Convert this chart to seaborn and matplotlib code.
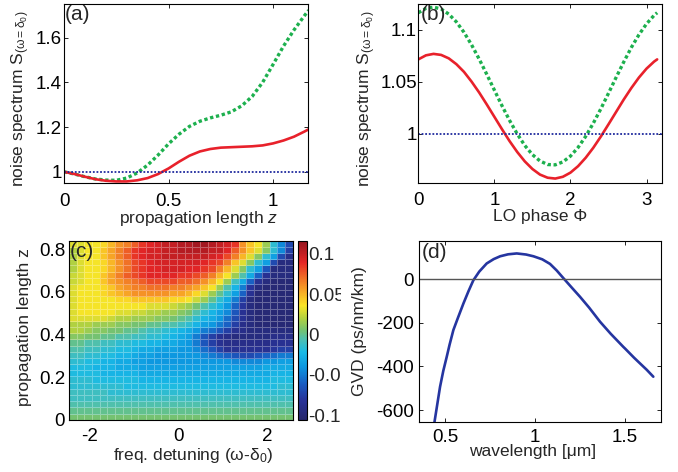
import numpy as np
import pandas as pd
import seaborn as sns
import matplotlib
matplotlib.use("Agg")
import matplotlib.pyplot as plt
from matplotlib.colors import LinearSegmentedColormap
from matplotlib.transforms import Bbox

# (a) noise spectrum vs propagation length
z_a = [0, 0.05, 0.1, 0.15, 0.2, 0.25, 0.3, 0.35, 0.4, 0.45, 0.5, 0.55, 0.6, 0.65,
       0.7, 0.75, 0.8, 0.85, 0.9, 0.95, 1.0, 1.05, 1.1, 1.15, 1.17]
S_green_a = [1.0, 0.99, 0.978, 0.968, 0.963, 0.962, 0.972, 0.995, 1.03, 1.075, 1.125,
             1.168, 1.203, 1.226, 1.241, 1.253, 1.268, 1.295, 1.337, 1.40, 1.48, 1.562,
             1.634, 1.698, 1.722]
S_red_a = [1.0, 0.99, 0.978, 0.967, 0.96, 0.957, 0.957, 0.962, 0.972, 0.99, 1.015,
           1.045, 1.072, 1.091, 1.102, 1.108, 1.11, 1.112, 1.114, 1.118, 1.127, 1.14,
           1.157, 1.18, 1.19]

# (b) noise spectrum vs LO phase
phi_b = [0, 0.1, 0.2, 0.3, 0.4, 0.5, 0.6, 0.7, 0.8, 0.9, 1.0, 1.1, 1.2, 1.3, 1.4, 1.5,
         1.6, 1.7, 1.8, 1.9, 2.0, 2.1, 2.2, 2.3, 2.4, 2.5, 2.6, 2.7, 2.8, 2.9, 3.0, 3.1, 3.14]
S_green_b = [1.1166, 1.1208, 1.122, 1.1202, 1.1153, 1.1078, 1.0978, 1.0857, 1.072, 1.0573,
             1.0421, 1.0271, 1.0129, 1.0, 0.9888, 0.980, 0.9739, 0.9705, 0.9702, 0.973,
             0.9786, 0.9869, 0.9976, 1.0102, 1.0242, 1.0391, 1.0543, 1.0691, 1.0831,
             1.0954, 1.1059, 1.1141, 1.1166]
S_red_b = [1.0717, 1.0756, 1.077, 1.076, 1.0727, 1.0671, 1.0597, 1.0503, 1.0398, 1.0283,
           1.0164, 1.0045, 0.993, 0.9826, 0.9735, 0.9662, 0.9608, 0.9578, 0.957, 0.9587,
           0.9627, 0.9689, 0.977, 0.9866, 0.9975, 1.0092, 1.0211, 1.033, 1.0441, 1.0542,
           1.0628, 1.0696, 1.0717]

# (c) map, rows from top (z = 0.84) to bottom (z = 0), values in units of 0.01
map_rows = [
    [3, 3, 3.5, 3.5, 4, 5, 6, 6.5, 7.5, 8.5, 9, 9.5, 10, 10, 10.5, 10.5, 11, 11, 10.5, 10, 9.5, 8.5, 6, 4.5, 3.5, 1.5, -1.5, -4.5, -7],
    [2, 3, 3.5, 3.5, 4.5, 5.5, 6.5, 7.5, 8.5, 9, 9.5, 9.5, 10, 10, 10.5, 10.5, 10.5, 10.5, 10, 10, 9, 7.5, 6, 4.5, 3, 1, -1.5, -4.5, -7.5],
    [2, 3, 3.5, 3.5, 4.5, 5.5, 6.5, 7.5, 8.5, 9, 9.5, 9.5, 10, 10, 10, 10, 10, 10, 9.5, 9, 8, 6.5, 5, 3, 1, -1.5, -3.5, -7, -9],
    [2, 3, 3.5, 3.5, 4, 5, 6, 7, 8, 8.5, 9, 9.5, 9.5, 9.5, 9.5, 9.5, 9.5, 9, 8.5, 8, 6.5, 4.5, 3, 1, -1.5, -3.5, -7, -9.5, -9.5],
    [2, 3, 3.5, 3.5, 4, 5, 6, 7, 8, 8.5, 9, 9, 9.5, 9.5, 9.5, 9, 9, 8.5, 8, 6.5, 5, 3, 1, -1.5, -3.5, -6.5, -9.5, -9.5, -9.5],
    [2.5, 3, 3.5, 3.5, 4.5, 5.5, 6.5, 7.5, 8, 8.5, 9, 9, 9, 9, 8.5, 8.5, 8, 7.5, 6.5, 5, 3.5, 1.5, -0.5, -3, -6, -8.5, -9.5, -9.5, -9.5],
    [2.5, 3, 3.5, 3.5, 4.5, 5.5, 6, 6.5, 7, 7.5, 8, 8, 8, 8, 7.5, 7.5, 7, 6, 5, 3.5, 1.5, -1, -3, -6, -8.5, -9.5, -10, -10, -10],
    [3, 3.5, 3.5, 3.5, 4, 4.5, 5.5, 6, 6.5, 6.5, 7, 7, 7, 6.5, 6.5, 6, 5.5, 4.5, 3.5, 1.5, -0.5, -2.5, -5, -8, -9.5, -10, -10, -10, -10],
    [3, 3.5, 3.5, 3.5, 4, 4.5, 5, 5.5, 6, 6, 6, 6, 6, 5.5, 5.5, 5, 4, 3, 1.5, 0, -1.5, -3.5, -6, -8.5, -10, -10, -10, -10, -10],
    [3, 3.5, 3.5, 3.5, 3.5, 3.5, 4, 4, 4.5, 4.5, 4.5, 4.5, 4.5, 4, 4, 3.5, 2.5, 1.5, 0, -1.5, -3, -5, -7.5, -9.5, -10, -10, -10, -10, -10],
    [3, 3.5, 3.5, 3.5, 3.5, 3.5, 3.5, 3.5, 3.5, 3.5, 3, 3, 3, 2.5, 2, 1.5, 0.5, -0.5, -1.5, -2.5, -4, -6, -8, -9.5, -10, -10, -10, -10, -10],
    [3, 3.5, 3.5, 3.5, 3.5, 3.5, 3, 3, 2.5, 2.5, 2, 2, 1.5, 1.5, 1, 0.5, -0.5, -1.5, -2.5, -3.5, -4.5, -6.5, -8.5, -9.5, -10, -10, -10, -10, -10],
    [3, 3, 3, 3, 3, 2.5, 2, 2, 1.5, 1.5, 1.5, 1, 1, 0.5, 0, -0.5, -1.5, -2.5, -3, -4, -5.5, -7, -8.5, -9.5, -10, -10, -10, -10, -10],
    [2, 2, 2, 1.5, 1.5, 1.5, 1, 1, 0.5, 0.5, 0, 0, -0.5, -0.5, -1, -1.5, -2.5, -3.5, -4, -5, -6, -7.5, -9, -9.5, -10, -10, -10, -10, -10],
    [2, 2, 1.5, 1, 1, 0.5, 0.5, 0, 0, -0.5, -1, -1, -1.5, -2, -2.5, -3, -4, -5, -5.5, -6.5, -7.5, -8.5, -9, -9.5, -9.5, -9.5, -9.5, -9.5, -9.5],
    [1, 1, 0.5, 0.5, 0, 0, -0.5, -0.5, -1, -1, -1.5, -1.5, -2, -2.5, -3, -3.5, -5, -6.5, -7.5, -8.5, -9, -9.5, -9.5, -9.5, -9.5, -9.5, -9, -9, -9],
    [0, 0, -0.5, -0.5, -1, -1, -1.5, -1.5, -2, -2, -2.5, -2.5, -3, -3, -3.5, -4, -5, -6.5, -7.5, -8.5, -9, -9, -9, -9, -9, -9, -8.5, -8.5, -8.5],
    [-0.5, -0.5, -1, -1, -1.5, -1.5, -2, -2, -2.5, -3, -3, -3.5, -3.5, -3.5, -4, -4, -4.5, -5.5, -6.5, -7.5, -8.5, -8.5, -8.5, -8.5, -8.5, -8.5, -8, -7.5, -7.5],
    [-1, -1, -1.5, -1.5, -2, -2, -2.5, -2.5, -3, -3.5, -3.5, -4, -4, -4, -4, -4, -4, -4.5, -5, -5.5, -6, -6.5, -7, -7, -6.5, -6, -5.5, -5, -5],
    [-1.5, -1.5, -2, -2, -2.5, -2.5, -3, -3, -3.5, -3.5, -4, -4, -4, -4, -4, -4, -4, -4, -4, -4, -4, -4.5, -4.5, -4.5, -4.5, -4, -4, -3.5, -3.5],
    [-2, -2, -2, -2.5, -2.5, -2.5, -3, -3, -3, -3.5, -3.5, -3.5, -3.5, -3.5, -3.5, -3.5, -3.5, -3.5, -3.5, -3.5, -3.5, -3.5, -3.5, -3.5, -3.5, -3, -3, -3, -3],
    [-2, -2, -2, -2, -2.5, -2.5, -2.5, -2.5, -2.5, -3, -3, -3, -3, -3, -3, -3, -3, -3, -3, -3, -3, -3, -3, -3, -3, -3, -2.5, -2.5, -2.5],
    [-1.5, -1.5, -1.5, -2, -2, -2, -2, -2, -2, -2.5, -2.5, -2.5, -2.5, -2.5, -2.5, -2.5, -2.5, -2.5, -2.5, -2.5, -2.5, -2.5, -2.5, -2.5, -2.5, -2.5, -2, -2, -2],
    [-1.5, -1.5, -1.5, -1.5, -1.5, -1.5, -1.5, -2, -2, -2, -2, -2, -2, -2, -2, -2, -2, -2, -2, -2, -2, -2, -2, -2, -2, -2, -2, -1.5, -1.5],
    [-1, -1, -1, -1, -1, -1.5, -1.5, -1.5, -1.5, -1.5, -1.5, -1.5, -1.5, -1.5, -1.5, -1.5, -1.5, -1.5, -1.5, -1.5, -1.5, -1.5, -1.5, -1.5, -1.5, -1.5, -1.5, -1.5, -1.5],
    [-1, -1, -1, -1, -1, -1, -1, -1, -1, -1, -1, -1, -1, -1, -1, -1, -1, -1, -1, -1, -1, -1, -1, -1, -1, -1, -1, -1, -1],
    [-0.5, -0.5, -0.5, -0.5, -0.5, -0.5, -0.5, -0.5, -0.5, -0.5, -0.5, -0.5, -0.5, -0.5, -0.5, -0.5, -0.5, -0.5, -0.5, -0.5, -0.5, -0.5, -0.5, -0.5, -0.5, -0.5, -0.5, -0.5, -0.5],
    [0, 0, 0, 0, 0, 0, 0, 0, 0, 0, 0, 0, 0, 0, 0, 0, 0, 0, 0, 0, 0, 0, 0, 0, 0, 0, 0, 0, 0],
    [0.5, 0.5, 0.5, 0.5, 0.5, 0.5, 0.5, 0.5, 0.5, 0.5, 0.5, 0.5, 0.5, 0.5, 0.5, 0.5, 0.5, 0.5, 0.5, 0.5, 0.5, 0.5, 0.5, 0.5, 0.5, 0.5, 0.5, 0.5, 0.5],
]
freq_c = np.linspace(-2.37, 2.49, 29)
z_c = np.linspace(0.0145, 0.8255, 29)

# (d) GVD curve
wl_d = [0.44, 0.472, 0.49, 0.509, 0.525, 0.546, 0.57, 0.602, 0.63, 0.657, 0.69, 0.731,
        0.77, 0.806, 0.85, 0.898, 0.95, 0.991, 1.04, 1.083, 1.12, 1.157, 1.2, 1.25,
        1.3, 1.361, 1.42, 1.49, 1.5, 1.55, 1.583, 1.62, 1.657]
gvd_d = [-660, -493, -420, -356, -300, -233, -180, -111, -55, -5, 35, 72,
         92, 105, 114, 118, 113, 105, 91, 70, 40, 5, -35, -81,
         -130, -195, -250, -310, -318, -360, -386, -415, -447]

sns.set_style("ticks")
plt.rcParams["font.family"] = ["Liberation Sans", "DejaVu Sans"]
plt.rcParams["mathtext.fontset"] = "custom"
plt.rcParams["mathtext.rm"] = "Liberation Sans"
plt.rcParams["mathtext.it"] = "Liberation Sans:italic"
plt.rcParams["axes.unicode_minus"] = False
plt.rcParams["axes.linewidth"] = 0.8
plt.rcParams["axes.edgecolor"] = "black"

RED = "#e8212b"
GREEN = "#1db04e"
BLUE = "#1f2a9e"
NAVY = "#2535a0"
TICK = 13.5
LAB = 12.5

# jet-like map, a bit muted as in the printed figure
muted_jet = LinearSegmentedColormap.from_list("muted_jet", [
    (0.00, (0.15, 0.15, 0.42)),
    (0.11, (0.16, 0.20, 0.60)),
    (0.20, (0.10, 0.36, 0.76)),
    (0.30, (0.05, 0.60, 0.88)),
    (0.38, (0.10, 0.73, 0.90)),
    (0.45, (0.30, 0.75, 0.70)),
    (0.50, (0.45, 0.76, 0.45)),
    (0.57, (0.70, 0.82, 0.25)),
    (0.64, (0.98, 0.90, 0.15)),
    (0.72, (0.97, 0.66, 0.15)),
    (0.80, (0.94, 0.42, 0.15)),
    (0.88, (0.90, 0.15, 0.15)),
    (1.00, (0.58, 0.08, 0.12)),
])

fig = plt.figure(figsize=(6.78, 4.72), dpi=100)
ax_a = fig.add_axes([0.0944, 0.6123, 0.3599, 0.3792])
ax_b = fig.add_axes([0.617, 0.6129, 0.359, 0.3786])
ax_c = fig.add_axes([0.1013, 0.1108, 0.3307, 0.3792])
cax = fig.add_axes([0.4391, 0.1102, 0.0133, 0.3792])
ax_d = fig.add_axes([0.618, 0.1053, 0.357, 0.3841])


def style(ax, xpad, ypad):
    ax.tick_params(direction="in", length=3, width=0.6, labelsize=TICK,
                   top=True, right=True, colors="black")
    ax.tick_params(axis="x", pad=xpad)
    ax.tick_params(axis="y", pad=ypad)
    for s in ax.spines.values():
        s.set_visible(True)
        s.set_color("black")


# (a)
sns.lineplot(x=z_a, y=S_green_a, ax=ax_a, color=GREEN, linewidth=2.4,
             linestyle=(0, (1, 0.8)), errorbar=None)
sns.lineplot(x=z_a, y=S_red_a, ax=ax_a, color=RED, linewidth=1.9, errorbar=None)
ax_a.axhline(1, color=BLUE, linewidth=1.3, linestyle=(0, (1, 1)))
ax_a.set_xlim(0, 1.167)
ax_a.set_ylim(0.95, 1.75)
ax_a.set_xticks([0, 0.5, 1], labels=["0", "0.5", "1"])
ax_a.set_yticks([1, 1.2, 1.4, 1.6], labels=["1", "1.2", "1.4", "1.6"])
style(ax_a, 7, 1.5)
ax_a.set_xlabel("propagation length $z$", fontsize=LAB)
ax_a.set_ylabel(r"noise spectrum S$_{\mathrm{(\omega=\delta_0)}}$", fontsize=LAB)
ax_a.xaxis.set_label_coords(0.553, -0.145)
ax_a.yaxis.set_label_coords(-0.131, 0.47)
ax_a.text(0.005, 0.995, "(a)", transform=ax_a.transAxes, fontsize=15, va="top", ha="left")

# (b)
sns.lineplot(x=phi_b, y=S_green_b, ax=ax_b, color=GREEN, linewidth=2.4,
             linestyle=(0, (1, 0.8)), errorbar=None)
sns.lineplot(x=phi_b, y=S_red_b, ax=ax_b, color=RED, linewidth=1.9, errorbar=None)
ax_b.axhline(1, color=BLUE, linewidth=1.3, linestyle=(0, (1, 1)))
ax_b.set_xlim(0, 3.2)
ax_b.set_ylim(0.953, 1.125)
ax_b.set_xticks([0, 1, 2, 3], labels=["0", "1", "2", "3"])
ax_b.set_yticks([1, 1.05, 1.1], labels=["1", "1.05", "1.1"])
style(ax_b, 7, 1)
ax_b.set_xlabel("LO phase Φ", fontsize=LAB)
ax_b.set_ylabel(r"noise spectrum S$_{\mathrm{(\omega=\delta_0)}}$", fontsize=LAB)
ax_b.xaxis.set_label_coords(0.5, -0.145)
ax_b.yaxis.set_label_coords(-0.166, 0.47)
ax_b.text(0.01, 0.995, "(b)", transform=ax_b.transAxes, fontsize=15, va="top", ha="left")

# (c)
C = np.array(map_rows)[::-1] / 100.0
mesh = ax_c.pcolormesh(freq_c, z_c, C, cmap=muted_jet, vmin=-0.106, vmax=0.116,
                       shading="nearest", edgecolors=(1, 1, 1, 0.3), linewidth=0.5)
ax_c.set_xlim(-2.46, 2.58)
ax_c.set_ylim(0, 0.84)
ax_c.set_xticks([-2, 0, 2], labels=["-2", "0", "2"])
ax_c.set_yticks([0, 0.2, 0.4, 0.6, 0.8], labels=["0", "0.2", "0.4", "0.6", "0.8"])
style(ax_c, 6, 2.5)
ax_c.set_xlabel(r"freq. detuning ($\mathrm{\omega}$-$\mathrm{\delta_0}$)", fontsize=LAB)
ax_c.set_ylabel("propagation length z", fontsize=LAB)
ax_c.xaxis.set_label_coords(0.554, -0.147)
ax_c.yaxis.set_label_coords(-0.164, 0.52)
ax_c.text(0.005, 0.995, "(c)", transform=ax_c.transAxes, fontsize=15, va="top", ha="left")

cb = fig.colorbar(mesh, cax=cax)
cb.outline.set_linewidth(0.8)
cb.set_ticks([-0.1, -0.05, 0, 0.05, 0.1], labels=["-0.1", "-0.05", "0", "0.05", "0.1"])
cax.tick_params(direction="in", length=2.5, width=0.6, labelsize=TICK, pad=1,
                left=True, right=True)
clip = Bbox.from_extents(0, 0, 341, 472)
for lab in cax.get_yticklabels():
    lab.set_clip_box(clip)
    lab.set_clip_on(True)

# (d)
sns.lineplot(x=wl_d, y=gvd_d, ax=ax_d, color=NAVY, linewidth=1.9, errorbar=None, sort=False)
ax_d.axhline(0, color="#555555", linewidth=1.0)
ax_d.set_xlim(0.355, 1.70)
ax_d.set_ylim(-656, 175)
ax_d.set_xticks([0.5, 1, 1.5], labels=["0.5", "1", "1.5"])
ax_d.set_yticks([-600, -400, -200, 0], labels=["-600", "-400", "-200", "0"])
style(ax_d, 4.5, 3.5)
ax_d.set_xlabel("wavelength [μm]", fontsize=LAB)
ax_d.set_ylabel("GVD (ps/nm/km)", fontsize=LAB)
ax_d.xaxis.set_label_coords(0.469, -0.12)
ax_d.yaxis.set_label_coords(-0.215, 0.504)
ax_d.text(0.01, 0.99, "(d)", transform=ax_d.transAxes, fontsize=15, va="top", ha="left")

fig.savefig("out.png", dpi=100)
